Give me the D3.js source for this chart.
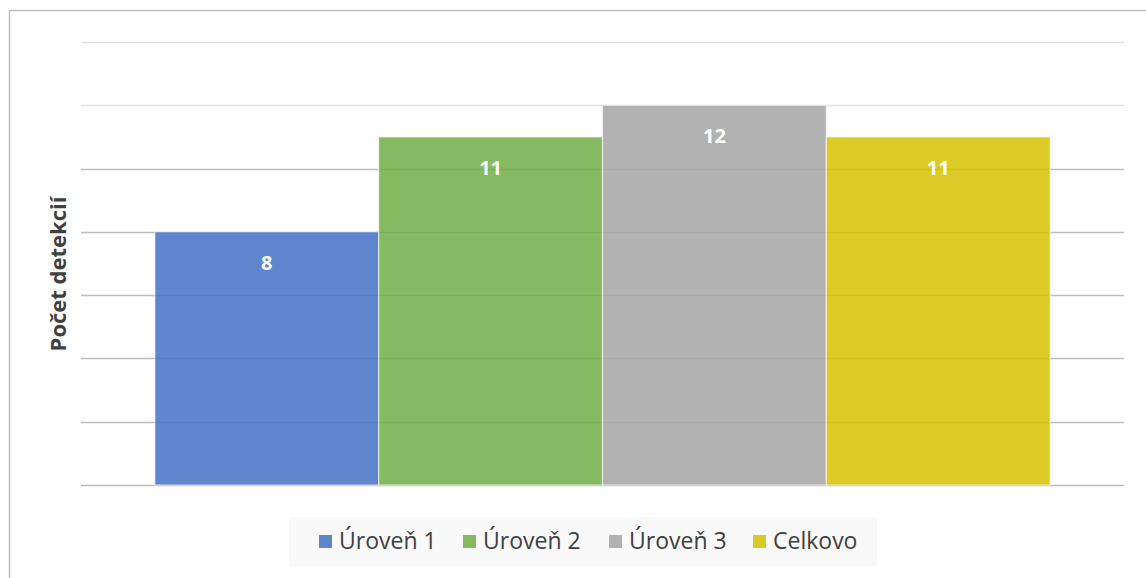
<!DOCTYPE html>
<html>
<head>
<meta charset="utf-8">
<script src="https://cdn.jsdelivr.net/npm/d3@7"></script>
<style>
  body { margin: 0; background: #fff; }
  svg { display: block; }
</style>
</head>
<body>
<svg id="svg" width="1146" height="578"></svg>
<script>
// data
const series = ["Úroveň 1", "Úroveň 2", "Úroveň 3", "Celkovo"];
const values = [8, 11, 12, 11];
const colors = ["#4472c4", "#70ad47", "#a5a5a5", "#d6c200"];
const yTicks = [0, 2, 4, 6, 8, 10, 12, 14];
const yTitle = "Počet detekcií";

const svg = d3.select("svg#svg");
const W = 1146, H = 578;

// chart border (only left + top show in frame)
svg.append("rect")
    .attr("x", 9.5).attr("y", 10.5)
    .attr("width", W).attr("height", H)
    .attr("fill", "none").attr("stroke", "#bfbfbf").attr("stroke-width", 1.5);

const plot = {left: 81, right: 1124, top: 42, bottom: 485};

const x = d3.scaleBand()
    .domain(series)
    .range([plot.left, plot.right])
    .paddingInner(0)
    .paddingOuter(0.33);

const y = d3.scaleLinear()
    .domain([0, 14])
    .range([plot.bottom, plot.top]);

// gridlines
svg.append("g").selectAll("line")
    .data(yTicks)
    .enter().append("line")
    .attr("x1", plot.left).attr("x2", plot.right)
    .attr("y1", d => Math.round(y(d)) + 0.5)
    .attr("y2", d => Math.round(y(d)) + 0.5)
    .attr("stroke", d => d >= 12 ? "#e2e2e2" : "#bcbcbc")
    .attr("stroke-width", 1.5);

// bars
svg.append("g").selectAll("rect")
    .data(values)
    .enter().append("rect")
    .attr("x", (d, i) => x(series[i]))
    .attr("y", d => y(d))
    .attr("width", x.bandwidth())
    .attr("height", d => y(0) - y(d))
    .attr("fill", (d, i) => colors[i])
    .attr("fill-opacity", 0.85)
    .attr("stroke", "#ffffff")
    .attr("stroke-opacity", 0.6)
    .attr("stroke-width", 1.2);

// value labels
svg.append("g").selectAll("text")
    .data(values)
    .enter().append("text")
    .attr("x", (d, i) => x(series[i]) + x.bandwidth() / 2)
    .attr("y", d => y(d) + 38)
    .attr("text-anchor", "middle")
    .attr("font-family", "'Open Sans', sans-serif")
    .attr("font-weight", "bold")
    .attr("font-size", 20)
    .attr("fill", "#ffffff")
    .text(d => d);

// y axis title
svg.append("text")
    .attr("transform", "translate(66,274) rotate(-90)")
    .attr("text-anchor", "middle")
    .attr("font-family", "'Open Sans', sans-serif")
    .attr("font-weight", "bold")
    .attr("font-size", 22)
    .attr("fill", "#404040")
    .text(yTitle);

// legend
const legend = svg.append("g");
legend.append("rect")
    .attr("x", 289).attr("y", 517)
    .attr("width", 588).attr("height", 49)
    .attr("fill", "#f9f9f9");

const legendX = [319, 463, 609, 753];
const items = legend.selectAll("g.item")
    .data(series)
    .enter().append("g")
    .attr("class", "item")
    .attr("transform", (d, i) => `translate(${legendX[i]},0)`);

items.append("rect")
    .attr("x", 0).attr("y", 535)
    .attr("width", 13).attr("height", 13)
    .attr("fill", (d, i) => colors[i])
    .attr("fill-opacity", 0.85);

items.append("text")
    .attr("x", 20).attr("y", 549)
    .attr("font-family", "'Open Sans', sans-serif")
    .attr("font-size", 23)
    .attr("fill", "#404040")
    .text(d => d);
</script>
</body>
</html>
